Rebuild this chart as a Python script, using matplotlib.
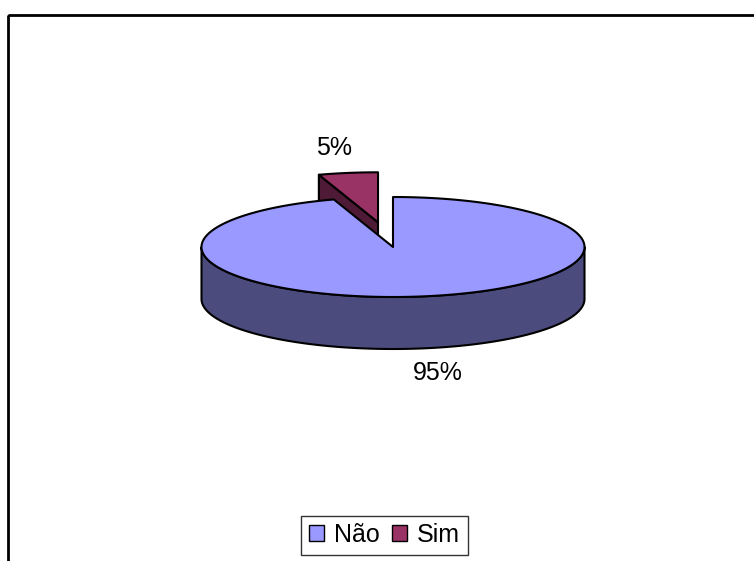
import numpy as np
import matplotlib.pyplot as plt
from matplotlib.patches import Polygon, Patch, Rectangle

# dados do grafico
categorias = ['Não', 'Sim']
valores = [95, 5]
rotulos = ['95%', '5%']
cores_topo = ['#9999FF', '#993366']
cores_lado = ['#4B4B7E', '#4F1A36']
explosao = [0.0, 0.5]

plt.rcParams['font.family'] = ['Liberation Sans', 'DejaVu Sans']

fig = plt.figure(figsize=(7.54, 5.61), dpi=100)
ax = fig.add_axes([0, 0, 1, 1])
ax.set_xlim(0, 754)
ax.set_ylim(561, 0)
ax.axis('off')

# geometria da pizza 3d (em pixels)
cx, cy = 393, 247
a, b = 191.5, 50
prof = 52

def arco(c, t1, t2, n=120):
    t = np.radians(np.linspace(t1, t2, n))
    return np.column_stack([c[0] + a*np.cos(t), c[1] - b*np.sin(t)])

total = float(sum(valores))
inicio = 90.0
fatias = []
for i, v in enumerate(valores):
    t2 = inicio
    t1 = inicio - 360.0*v/total
    inicio = t1
    meio = np.radians((t1 + t2)/2)
    c = (cx + explosao[i]*a*np.cos(meio), cy - explosao[i]*b*np.sin(meio))
    fatias.append((i, t1, t2, c))

# desenha de tras pra frente (fatia explodida atras)
for i, t1, t2, c in reversed(fatias):
    kw = dict(edgecolor='black', linewidth=1.5, joinstyle='round')
    # faces radiais visiveis
    for ang, vis in ((t1, np.cos(np.radians(t1)) > 1e-6), (t2, np.cos(np.radians(t2)) < -1e-6)):
        if vis:
            p = (c[0] + a*np.cos(np.radians(ang)), c[1] - b*np.sin(np.radians(ang)))
            ax.add_patch(Polygon([c, p, (p[0], p[1]+prof), (c[0], c[1]+prof)],
                                 facecolor=cores_lado[i], **kw))
    # lateral curva (parte da frente)
    for k in range(-2, 3):
        lo, hi = max(t1, 180 + 360*k), min(t2, 360 + 360*k)
        if hi > lo:
            arc = arco(c, lo, hi)
            baixo = arc[::-1] + [0, prof]
            ax.add_patch(Polygon(np.vstack([arc, baixo]), facecolor=cores_lado[i], **kw))
    # topo
    topo = np.vstack([[c], arco(c, t1, t2, 300)])
    ax.add_patch(Polygon(topo, facecolor=cores_topo[i], **kw))

# rotulos de dados
ax.text(438, 373, rotulos[0], fontsize=18, ha='center', va='center')
ax.text(334, 148, rotulos[1], fontsize=18, ha='center', va='center')

# borda da area do grafico
ax.add_patch(Rectangle((8, 15), 900, 700, fill=False, edgecolor='black',
                       linewidth=2, clip_on=False))

handles = [Patch(facecolor=cores_topo[i], edgecolor='black', linewidth=1) for i in range(2)]
leg = fig.legend(handles, categorias, loc='center', bbox_to_anchor=(384.5/754, 1 - 535/561),
                 ncol=2, fontsize=18, frameon=True, fancybox=False, handlelength=0.6,
                 handleheight=0.6, handletextpad=0.4, columnspacing=0.5, borderpad=0.3,
                 borderaxespad=0)
leg.get_frame().set_edgecolor('black')
leg.get_frame().set_linewidth(1)

fig.savefig('out.png', dpi=100)
